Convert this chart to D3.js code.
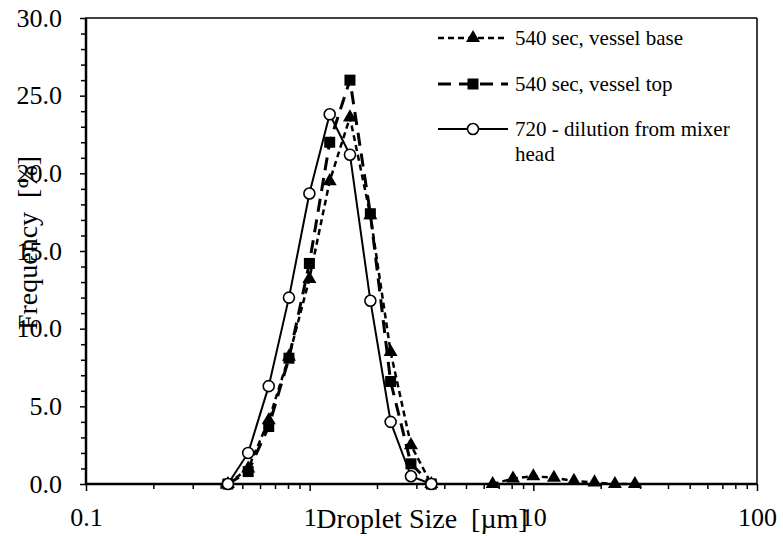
<!DOCTYPE html>
<html>
<head>
<meta charset="utf-8">
<script src="https://cdn.jsdelivr.net/npm/d3@7"></script>
<style>
  html, body { margin: 0; padding: 0; background: #fff; }
</style>
</head>
<body>
<svg id="chart" width="783" height="536"></svg>
<script>
// Droplet size bins [µm] (log-spaced)
const sizesMain = [0.431, 0.531, 0.656, 0.808, 0.997, 1.229, 1.514, 1.868, 2.301, 2.837, 3.499];
const sizesCoarse = [6.58, 8.11, 10.0, 12.36, 15.19, 18.77, 23.16, 28.45];

// Frequency [%] per series
const baseMain   = [0.0, 1.0, 4.1, 8.2, 13.2, 19.5, 23.6, 17.3, 8.5, 2.5, 0.0];
const baseCoarse = [0.0, 0.35, 0.5, 0.4, 0.2, 0.1, 0.0, 0.0];
const topVals    = [0.0, 0.8, 3.7, 8.1, 14.2, 22.0, 26.0, 17.4, 6.6, 1.3, 0.0];
const mixerVals  = [0.0, 2.0, 6.3, 12.0, 18.7, 23.8, 21.2, 11.8, 4.0, 0.5, 0.0];

const seriesNames = ["540 sec, vessel base", "540 sec, vessel top", "720 - dilution from mixer head"];
const yTickLabels = ["0.0", "5.0", "10.0", "15.0", "20.0", "25.0", "30.0"];
const xTickLabels = ["0.1", "1", "10", "100"];

const FONT = "'Liberation Serif', 'DejaVu Serif', 'Times New Roman', serif";

const svg = d3.select("#chart");
const plotL = 86, plotR = 757, plotT = 18, plotB = 484;

const x = d3.scaleLog().domain([0.1, 100]).range([plotL, plotR]);
const y = d3.scaleLinear().domain([0, 30]).range([plotB, plotT]);

// Axes
const yMajor = yTickLabels.map(Number);
const yMinor = d3.range(0, 31, 1).filter(v => v % 5 !== 0);

const gy = svg.append("g").attr("transform", `translate(${plotL},0)`);
gy.call(d3.axisLeft(y).tickValues(yMajor).tickFormat((d, i) => yTickLabels[i]).tickSize(6).tickPadding(18));
gy.append("g").call(d3.axisLeft(y).tickValues(yMinor).tickFormat("").tickSize(5));
gy.selectAll("path.domain").remove();
gy.selectAll("line").attr("stroke", "#000").attr("stroke-width", 1.5);
gy.selectAll("text").attr("font-size", 26).attr("fill", "#000");

const xMajor = xTickLabels.map(Number);
const xMinor = [];
[0.1, 1, 10].forEach(d => { for (let k = 2; k <= 9; k++) xMinor.push(d * k); });

const gx = svg.append("g").attr("transform", `translate(0,${plotB})`);
gx.call(d3.axisBottom(x).tickValues(xMajor).tickFormat((d, i) => xTickLabels[i]).tickSize(7).tickPadding(17));
gx.append("g").call(d3.axisBottom(x).tickValues(xMinor).tickFormat("").tickSize(5));
gx.selectAll("path.domain").remove();
gx.selectAll("line").attr("stroke", "#000").attr("stroke-width", 1.5);
gx.selectAll("text").attr("font-size", 26).attr("fill", "#000");

// Axis lines
svg.append("line").attr("x1", plotL).attr("x2", plotL).attr("y1", plotT).attr("y2", plotB + 1)
  .attr("stroke", "#000").attr("stroke-width", 2.5);
svg.append("line").attr("x1", plotL - 1).attr("x2", plotR).attr("y1", plotB).attr("y2", plotB)
  .attr("stroke", "#000").attr("stroke-width", 2.5);
svg.append("line").attr("x1", plotL - 1).attr("x2", plotR).attr("y1", plotT).attr("y2", plotT)
  .attr("stroke", "#000").attr("stroke-width", 1.5);
svg.append("line").attr("x1", plotR).attr("x2", plotR).attr("y1", plotT).attr("y2", plotB)
  .attr("stroke", "#000").attr("stroke-width", 1.5);

// Axis titles
svg.append("text")
  .attr("x", 422).attr("y", 528)
  .attr("text-anchor", "middle").attr("font-size", 28)
  .style("white-space", "pre")
  .text("Droplet Size  [µm]");
svg.append("text")
  .attr("transform", "translate(37,243) rotate(-90)")
  .attr("text-anchor", "middle").attr("font-size", 28)
  .style("white-space", "pre")
  .text("Frequency  [%]");

// Series
const line = d3.line().x(d => x(d[0])).y(d => y(d[1]));
const zip = (xs, ys) => xs.map((v, i) => [v, ys[i]]);

const styles = [
  { dash: "6,4", width: 2.5, marker: "triangle" },
  { dash: "13,8", width: 3, marker: "square" },
  { dash: null, width: 2, marker: "circle" }
];

function drawMarker(g, type, cx, cy) {
  if (type === "triangle") {
    g.append("path").attr("d", d3.symbol().type(d3.symbolTriangle).size(85)())
      .attr("transform", `translate(${cx},${cy})`).attr("fill", "#000");
  } else if (type === "square") {
    g.append("rect").attr("x", cx - 5.5).attr("y", cy - 5.5).attr("width", 11).attr("height", 11)
      .attr("fill", "#000");
  } else {
    g.append("circle").attr("cx", cx).attr("cy", cy).attr("r", 5.5)
      .attr("fill", "#fff").attr("stroke", "#000").attr("stroke-width", 1.6);
  }
}

const seriesData = [
  [zip(sizesMain, baseMain), zip(sizesCoarse, baseCoarse)],
  [zip(sizesMain, topVals)],
  [zip(sizesMain, mixerVals)]
];

const plot = svg.append("g");
seriesData.forEach((segments, si) => {
  const st = styles[si];
  const g = plot.append("g");
  segments.forEach(seg => {
    g.append("path").attr("d", line(seg)).attr("fill", "none")
      .attr("stroke", "#000").attr("stroke-width", st.width)
      .attr("stroke-dasharray", st.dash);
  });
  segments.forEach(seg => seg.forEach(d => drawMarker(g, st.marker, x(d[0]), y(d[1]))));
});

// Legend
const legendRows = [38, 84, 129];
const leg = svg.append("g");
seriesNames.forEach((name, i) => {
  const st = styles[i];
  const ry = legendRows[i];
  leg.append("line").attr("x1", 438).attr("x2", 508).attr("y1", ry).attr("y2", ry)
    .attr("stroke", "#000").attr("stroke-width", st.width).attr("stroke-dasharray", st.dash);
  drawMarker(leg, st.marker, 473, ry);
  const t = leg.append("text").attr("x", 515).attr("y", ry + 7).attr("font-size", 21);
  if (i === 2) {
    t.append("tspan").attr("x", 515).text("720 - dilution from mixer");
    t.append("tspan").attr("x", 515).attr("dy", 25).text("head");
  } else {
    t.text(name);
  }
});

// Serif face on every label
svg.selectAll("text").attr("font-family", FONT).style("font-family", FONT);
</script>
</body>
</html>
